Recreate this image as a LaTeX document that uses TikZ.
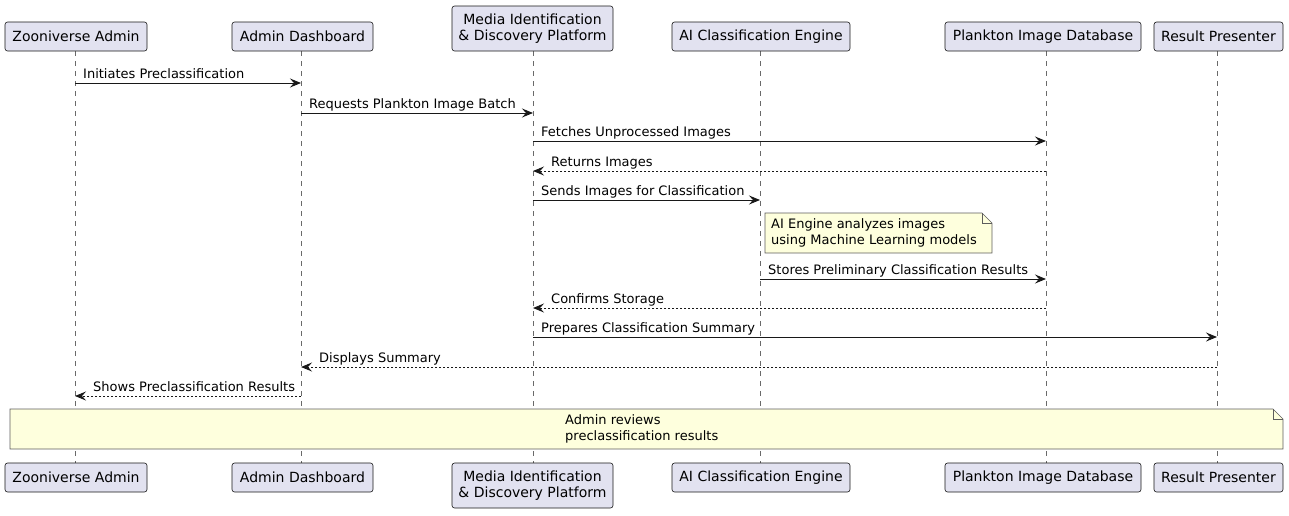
\documentclass[tikz,border=0pt]{standalone}
\usepackage{fontspec}
\setmainfont{DejaVu Sans}
\usetikzlibrary{arrows.meta,calc}
\definecolor{partfill}{HTML}{E2E2F0}
\definecolor{linec}{HTML}{181818}
\definecolor{notefill}{HTML}{FEFFDD}
\begin{document}
\begin{tikzpicture}[x=1pt,y=-1pt,
  part/.style={draw=linec, fill=partfill, rounded corners=2.5pt, line width=0.6pt,
    minimum height=29pt, inner xsep=0pt, inner ysep=0pt, align=center,
    font=\fontsize{14}{16}\selectfont},
  lifeline/.style={draw=linec!65, line width=0.6pt, dash pattern=on 5pt off 5pt},
  msg/.style={draw=linec, line width=1pt, -{Stealth[length=11pt,width=9pt,inset=4pt]}},
  ret/.style={msg, dash pattern=on 2pt off 2pt},
  lbl/.style={font=\fontsize{13}{15}\selectfont, inner sep=0pt, anchor=base west},
  notetxt/.style={font=\fontsize{13}{16}\selectfont, inner sep=0pt, align=left},
  noteline/.style={draw=linec!70, fill=notefill, line width=0.6pt}
]
\useasboundingbox (0,0) rectangle (1289,515);

% lifeline x positions
\coordinate (za) at (75,0);
\coordinate (ad) at (301,0);
\coordinate (mi) at (533,0);
\coordinate (ai) at (760,0);
\coordinate (pd) at (1046,0);
\coordinate (rp) at (1217,0);

% lifelines
\foreach \p in {za,ad,mi,ai,pd,rp}{
  \draw[lifeline] (\p) ++(0,51) -- ++(0,412);
}

% participants top
\node[part, minimum width=142pt] (zaT) at (76,36.5) {Zooniverse Admin};
\node[part, minimum width=141pt] (adT) at (302.5,36.5) {Admin Dashboard};
\node[part, minimum width=161pt, minimum height=45pt] (miT) at (532.5,28.5) {Media Identification\\\& Discovery Platform};
\node[part, minimum width=178pt] (aiT) at (761,36.5) {AI Classification Engine};
\node[part, minimum width=196pt] (pdT) at (1043,36.5) {Plankton Image Database};
\node[part, minimum width=129pt] (rpT) at (1218.5,36.5) {Result Presenter};

% participants bottom
\node[part, minimum width=142pt] (zaB) at (76,477.5) {Zooniverse Admin};
\node[part, minimum width=141pt] (adB) at (302.5,477.5) {Admin Dashboard};
\node[part, minimum width=161pt, minimum height=45pt] (miB) at (532.5,485.5) {Media Identification\\\& Discovery Platform};
\node[part, minimum width=178pt] (aiB) at (761,477.5) {AI Classification Engine};
\node[part, minimum width=196pt] (pdB) at (1043,477.5) {Plankton Image Database};
\node[part, minimum width=129pt] (rpB) at (1218.5,477.5) {Result Presenter};

% message rows
\coordinate (r1) at (0,83);
\coordinate (r2) at (0,113);
\coordinate (r3) at (0,141);
\coordinate (r4) at (0,171);
\coordinate (r5) at (0,200);
\coordinate (r7) at (0,279);
\coordinate (r8) at (0,308);
\coordinate (r9) at (0,337);
\coordinate (r10) at (0,367);
\coordinate (r11) at (0,396);

\draw[msg] (za|-r1) -- (ad|-r1);
\node[lbl] (t1) at ($(za|-r1)+(8,-5)$) {Initiates Preclassification};

\draw[msg] (ad|-r2) -- (mi|-r2);
\node[lbl] (t2) at ($(ad|-r2)+(8,-5)$) {Requests Plankton Image Batch};

\draw[msg] (mi|-r3) -- (pd|-r3);
\node[lbl] (t3) at ($(mi|-r3)+(8,-5)$) {Fetches Unprocessed Images};

\draw[ret] (pd|-r4) -- (mi|-r4);
\node[lbl] (t4) at ($(mi|-r4)+(18,-5)$) {Returns Images};

\draw[msg] (mi|-r5) -- (ai|-r5);
\node[lbl] (t5) at ($(mi|-r5)+(8,-5)$) {Sends Images for Classification};

% note 1
\draw[noteline] (765,213) -- (982,213) -- (992,223) -- (992,253) -- (765,253) -- cycle;
\draw[draw=linec!70, line width=0.6pt] (982,213) -- (982,223) -- (992,223);
\node[notetxt, anchor=north west] (n1) at (771,218) {AI Engine analyzes images\\using Machine Learning models};

\draw[msg] (ai|-r7) -- (pd|-r7);
\node[lbl] (t7) at ($(ai|-r7)+(8,-5)$) {Stores Preliminary Classification Results};

\draw[ret] (pd|-r8) -- (mi|-r8);
\node[lbl] (t8) at ($(mi|-r8)+(18,-5)$) {Confirms Storage};

\draw[msg] (mi|-r9) -- (rp|-r9);
\node[lbl] (t9) at ($(mi|-r9)+(8,-5)$) {Prepares Classification Summary};

\draw[ret] (rp|-r10) -- (ad|-r10);
\node[lbl] (t10) at ($(ad|-r10)+(18,-5)$) {Displays Summary};

\draw[ret] (ad|-r11) -- (za|-r11);
\node[lbl] (t11) at ($(za|-r11)+(18,-5)$) {Shows Preclassification Results};

% note 2
\draw[noteline] (10,409) -- (1273,409) -- (1283,419) -- (1283,449) -- (10,449) -- cycle;
\draw[draw=linec!70, line width=0.6pt] (1273,409) -- (1273,419) -- (1283,419);
\node[notetxt, anchor=north west] (n2) at (565,414) {Admin reviews\\preclassification results};

\end{tikzpicture}
\end{document}
